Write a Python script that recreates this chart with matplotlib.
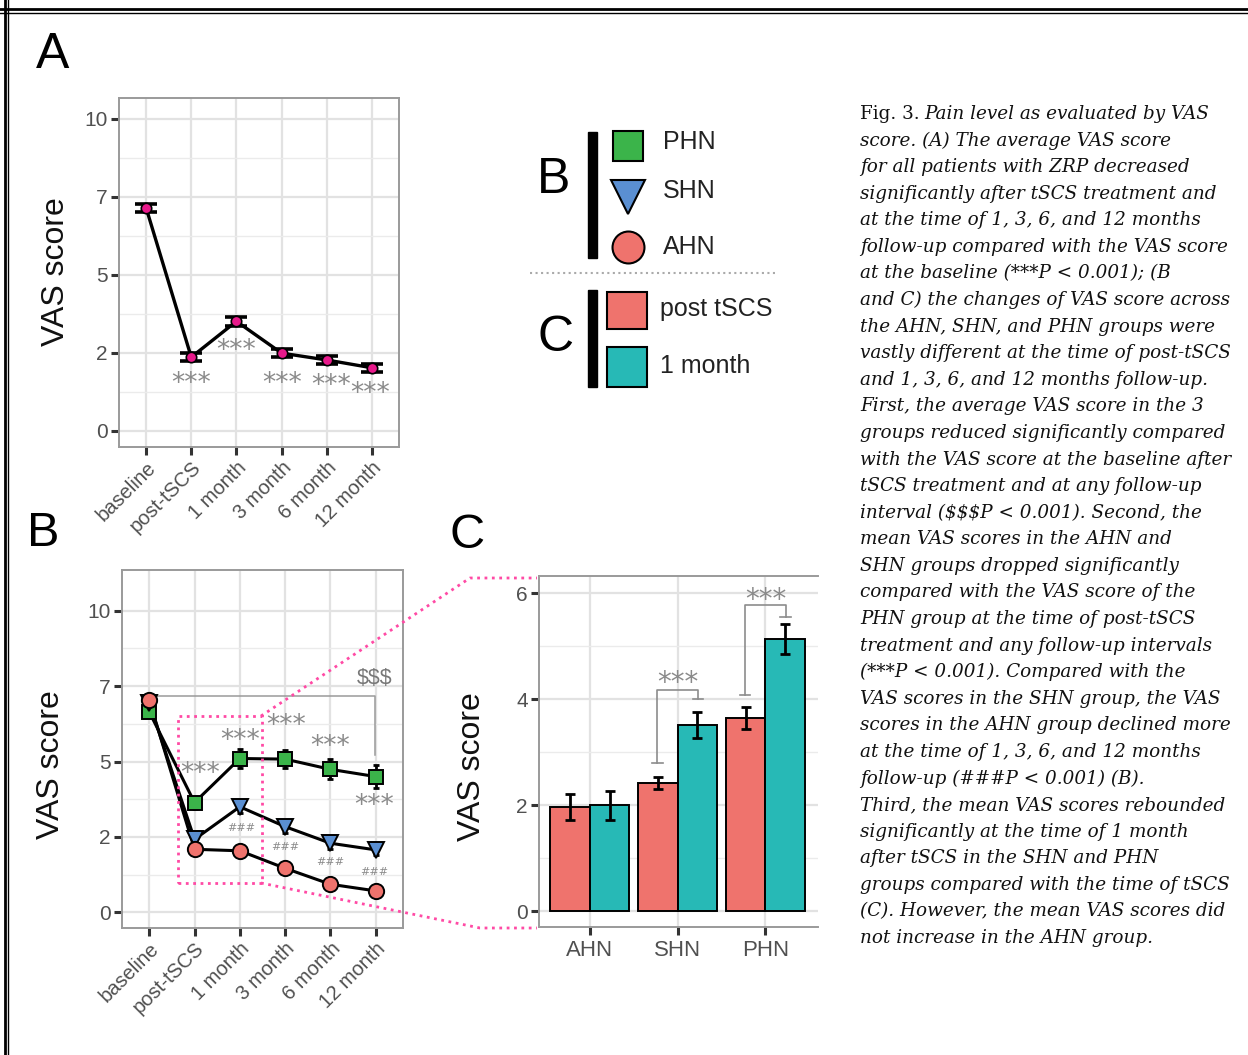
import numpy as np
import matplotlib
matplotlib.use("Agg")
import matplotlib.pyplot as plt
from matplotlib.lines import Line2D
from matplotlib.patches import Rectangle

plt.rcParams['font.family'] = ['Liberation Sans', 'DejaVu Sans']

W, H = 1248, 1055

# time points (x axis of A and B)
time_labels = ['baseline', 'post-tSCS', '1 month', '3 month', '6 month', '12 month']

# A: all patients
vas_all = [7.15, 2.36, 3.51, 2.49, 2.27, 2.02]
vas_all_err = [0.12, 0.13, 0.15, 0.14, 0.13, 0.13]

# B: per group
vas_phn = [6.65, 3.64, 5.10, 5.08, 4.74, 4.50]
vas_phn_err = [0.12, 0.20, 0.30, 0.30, 0.33, 0.38]
vas_shn = [6.95, 2.42, 3.50, 2.84, 2.29, 2.07]
vas_shn_err = [0.10, 0.12, 0.20, 0.20, 0.18, 0.18]
vas_ahn = [7.04, 2.09, 2.04, 1.46, 0.93, 0.71]
vas_ahn_err = [0.08, 0.08, 0.10, 0.10, 0.08, 0.08]

# C: post tSCS vs 1 month
groups = ['AHN', 'SHN', 'PHN']
post_tscs = [1.97, 2.42, 3.65]
post_tscs_err = [0.24, 0.12, 0.21]
one_month = [2.00, 3.52, 5.14]
one_month_err = [0.27, 0.25, 0.28]

# y ticks of A/B (labels as printed in the figure)
ab_yticks = [0, 2.5, 5, 7.5, 10]
ab_yticklabels = ['0', '2', '5', '7', '10']

caption_lines = [
    "score. (A) The average VAS score",
    "for all patients with ZRP decreased",
    "significantly after tSCS treatment and",
    "at the time of 1, 3, 6, and 12 months",
    "follow-up compared with the VAS score",
    "at the baseline (***P < 0.001); (B",
    "and C) the changes of VAS score across",
    "the AHN, SHN, and PHN groups were",
    "vastly different at the time of post-tSCS",
    "and 1, 3, 6, and 12 months follow-up.",
    "First, the average VAS score in the 3",
    "groups reduced significantly compared",
    "with the VAS score at the baseline after",
    "tSCS treatment and at any follow-up",
    "interval (\\$\\$\\$P < 0.001). Second, the",
    "mean VAS scores in the AHN and",
    "SHN groups dropped significantly",
    "compared with the VAS score of the",
    "PHN group at the time of post-tSCS",
    "treatment and any follow-up intervals",
    "(***P < 0.001). Compared with the",
    "VAS scores in the SHN group, the VAS",
    "scores in the AHN group declined more",
    "at the time of 1, 3, 6, and 12 months",
    "follow-up (###P < 0.001) (B).",
    "Third, the mean VAS scores rebounded",
    "significantly at the time of 1 month",
    "after tSCS in the SHN and PHN",
    "groups compared with the time of tSCS",
    "(C). However, the mean VAS scores did",
    "not increase in the AHN group.",
]

c_green = '#3BB44A'
c_blue = '#5A8FD2'
c_red = '#EF736D'
c_teal = '#27B9B6'
c_pink = '#FF4AA5'
c_star = '#8a8a8a'

fig = plt.figure(figsize=(W / 100, H / 100), dpi=100)


def fx(v):
    return v / W


def fy(v):
    return 1 - v / H


def add_ax(x0, y0, x1, y1):
    return fig.add_axes([fx(x0), fy(y1), (x1 - x0) / W, (y1 - y0) / H])


def fig_line(xs, ys, **kw):
    fig.add_artist(Line2D([fx(v) for v in xs], [fy(v) for v in ys],
                          transform=fig.transFigure, **kw))


def style_ax(ax):
    for s in ax.spines.values():
        s.set_color('#9a9a9a')
        s.set_linewidth(1.4)
    ax.set_axisbelow(True)
    ax.grid(which='major', color='#e2e2e2', lw=1.6)
    ax.grid(which='minor', axis='y', color='#ebebeb', lw=1.0)
    ax.tick_params(which='major', length=6, width=2.2, color='#333333',
                   labelcolor='#505050', labelsize=15, pad=2)
    ax.tick_params(axis='x', labelsize=14.5)
    ax.tick_params(which='minor', length=0)


# ---- frame of the page
fig_line([0, W], [9, 9], color='black', lw=2.0)
fig_line([0, W], [13, 13], color='black', lw=1.0)
fig_line([4.5, 4.5], [0, H], color='black', lw=2.0)
fig_line([8, 8], [0, H], color='black', lw=1.0)

x = np.arange(len(time_labels))

# ---- panel A
axA = add_ax(119, 98, 399, 447)
style_ax(axA)
axA.set_xlim(-0.6, 5.6)
axA.set_ylim(-0.52, 10.67)
axA.set_yticks(ab_yticks)
axA.set_yticklabels(ab_yticklabels)
axA.set_yticks([1.25, 3.75, 6.25, 8.75], minor=True)
axA.set_xticks(x)
axA.set_xticklabels(time_labels, rotation=45, ha='right', va='top', rotation_mode='anchor')
axA.plot(x, vas_all, color='black', lw=2.4, zorder=3)
axA.errorbar(x, vas_all, yerr=vas_all_err, fmt='none', ecolor='black',
             elinewidth=2.2, capsize=8, capthick=2.6, zorder=4)
axA.plot(x, vas_all, 'o', ms=7.5, mfc='#E8198B', mec='black', mew=1.2, zorder=5)
for xs, ys in [(1, 1.5), (2, 2.55), (3, 1.51), (4.1, 1.43), (4.95, 1.18)]:
    axA.text(xs, ys, '***', color=c_star, fontsize=19, family='DejaVu Sans',
             ha='center', va='center')

# ---- panel B
axB = add_ax(122, 570, 403, 928)
style_ax(axB)
axB.set_xlim(-0.6, 5.6)
axB.set_ylim(-0.52, 11.35)
axB.set_yticks(ab_yticks)
axB.set_yticklabels(ab_yticklabels)
axB.set_yticks([1.25, 3.75, 6.25, 8.75], minor=True)
axB.set_xticks(x)
axB.set_xticklabels(time_labels, rotation=45, ha='right', va='top', rotation_mode='anchor')

axB.plot([0, 4.99, 4.99], [7.17, 7.17, 5.2], color='#9a9a9a', lw=1.1, zorder=2)
axB.text(4.98, 7.76, '\\$\\$\\$', color='#777777', fontsize=15.5, ha='center', va='center')

for vals, errs, mk, col, ms in [(vas_phn, vas_phn_err, 's', c_green, 10),
                                (vas_shn, vas_shn_err, 'v', c_blue, 12),
                                (vas_ahn, vas_ahn_err, 'o', c_red, 11)]:
    axB.plot(x, vals, color='black', lw=2.2, zorder=3)
    axB.errorbar(x, vals, yerr=errs, fmt='none', ecolor='black',
                 elinewidth=2.0, capsize=2.5, capthick=2.0, zorder=3)
    axB.plot(x, vals, mk, ms=ms, mfc=col, mec='black', mew=1.4, zorder=4)

for xs, ys in [(1.12, 4.6), (2.0, 5.68), (3.03, 6.17), (4.0, 5.49), (4.96, 3.53)]:
    axB.text(xs, ys, '***', color=c_star, fontsize=19, family='DejaVu Sans',
             ha='center', va='center')
for xs, ys in [(2.02, 2.81), (3.0, 2.18), (4.0, 1.66), (4.97, 1.35)]:
    axB.text(xs, ys, '###', color=c_star, fontsize=8, family='DejaVu Sans',
             ha='center', va='center')

axB.add_patch(Rectangle((0.63, 0.98), 1.85, 5.52, fill=False, ec=c_pink,
                        ls=':', lw=2.0, zorder=6))

# zoom connectors to C
fig_line([261, 470, 537], [716, 578, 578], color=c_pink, ls=':', lw=2.0)
fig_line([261, 480, 537], [883, 928, 928], color=c_pink, ls=':', lw=2.0)

# ---- panel C
axC = add_ax(539, 576, 818, 927)
style_ax(axC)
axC.spines['right'].set_visible(False)
axC.set_xlim(-0.58, 2.6)
axC.set_ylim(-0.3, 6.33)
axC.set_yticks([0, 2, 4, 6])
axC.set_yticks([1, 3, 5], minor=True)
gx = np.arange(len(groups))
axC.set_xticks(gx)
axC.set_xticklabels(groups)
axC.tick_params(axis='x', labelsize=16, pad=3)
bw = 0.45
axC.bar(gx - bw / 2, post_tscs, bw, color=c_red, edgecolor='black', lw=1.4, zorder=3)
axC.bar(gx + bw / 2, one_month, bw, color=c_teal, edgecolor='black', lw=1.4, zorder=3)
axC.errorbar(gx - bw / 2, post_tscs, yerr=post_tscs_err, fmt='none', ecolor='black',
             elinewidth=2.0, capsize=3.6, capthick=2.0, zorder=4)
axC.errorbar(gx + bw / 2, one_month, yerr=one_month_err, fmt='none', ecolor='black',
             elinewidth=2.0, capsize=3.6, capthick=2.0, zorder=4)
for gi, yl, ytop, yr, ystar in [(1, 2.8, 4.18, 4.0, 4.3), (2, 4.08, 5.78, 5.56, 5.87)]:
    xl, xr = gi - 0.23, gi + 0.23
    axC.plot([xl, xl, xr, xr], [yl, ytop, ytop, yr], color='#8c8c8c', lw=1.2, zorder=5)
    axC.plot([xl - 0.06, xl + 0.06], [yl, yl], color='#8c8c8c', lw=1.2, zorder=5)
    axC.plot([xr - 0.06, xr + 0.06], [yr, yr], color='#8c8c8c', lw=1.2, zorder=5)
    axC.text(gi, ystar, '***', color=c_star, fontsize=20, family='DejaVu Sans',
             ha='center', va='center')

# ---- y labels
for xp, yp in [(56, 272), (51, 765), (472, 767)]:
    fig.text(fx(xp), fy(yp), 'VAS score', rotation=90, fontsize=23,
             ha='center', va='center', color='#111111')

# ---- panel letters
fig.text(fx(36), fy(55), 'A', fontsize=36, ha='left', va='center')
fig.text(fx(27), fy(534), 'B', fontsize=35, ha='left', va='center')
fig.text(fx(449), fy(535), 'C', fontsize=35, ha='left', va='center')

# ---- legend block
fig.text(fx(554), fy(180), 'B', fontsize=36, ha='center', va='center')
fig.text(fx(556), fy(338), 'C', fontsize=36, ha='center', va='center')
fig.add_artist(Rectangle((fx(588), fy(258)), 9 / W, 126 / H, color='black',
                         transform=fig.transFigure))
fig.add_artist(Rectangle((fx(588), fy(387)), 9 / W, 97 / H, color='black',
                         transform=fig.transFigure))
for yp, mk, col, ms in [(146, 's', c_green, 21), (197, 'v', c_blue, 25), (247, 'o', c_red, 23)]:
    fig.add_artist(Line2D([fx(628)], [fy(yp)], marker=mk, ms=ms, mfc=col, mec='black',
                          mew=1.5, ls='none', transform=fig.transFigure))
for yp, lab in [(142, 'PHN'), (191, 'SHN'), (247, 'AHN')]:
    fig.text(fx(663), fy(yp), lab, fontsize=18, ha='left', va='center', color='#222222')
fig_line([530, 777], [273, 273], color='#aaaaaa', ls=':', lw=1.5)
for y0, y1, col in [(292, 329, c_red), (347, 387, c_teal)]:
    fig.add_artist(Rectangle((fx(607), fy(y1)), 40 / W, (y1 - y0) / H, fc=col,
                             ec='black', lw=1.5, transform=fig.transFigure))
fig.text(fx(660), fy(309), 'post tSCS', fontsize=18, ha='left', va='center', color='#222222')
fig.text(fx(660), fy(366), '1 month', fontsize=18, ha='left', va='center', color='#222222')

# ---- caption
cap_kw = dict(family='DejaVu Serif', fontsize=13.25, color='#111111', va='baseline')
renderer = fig.canvas.get_renderer()
t0 = fig.text(fx(860), fy(119), 'Fig. 3.', **cap_kw)
bb = t0.get_window_extent(renderer=renderer)
fig.text((bb.x1 + 5) / W, fy(119), 'Pain level as evaluated by VAS', style='italic', **cap_kw)
for i, line in enumerate(caption_lines):
    fig.text(fx(860), fy(119 + 26.58 * (i + 1)), line, style='italic', **cap_kw)

fig.savefig('out.png', dpi=100)
